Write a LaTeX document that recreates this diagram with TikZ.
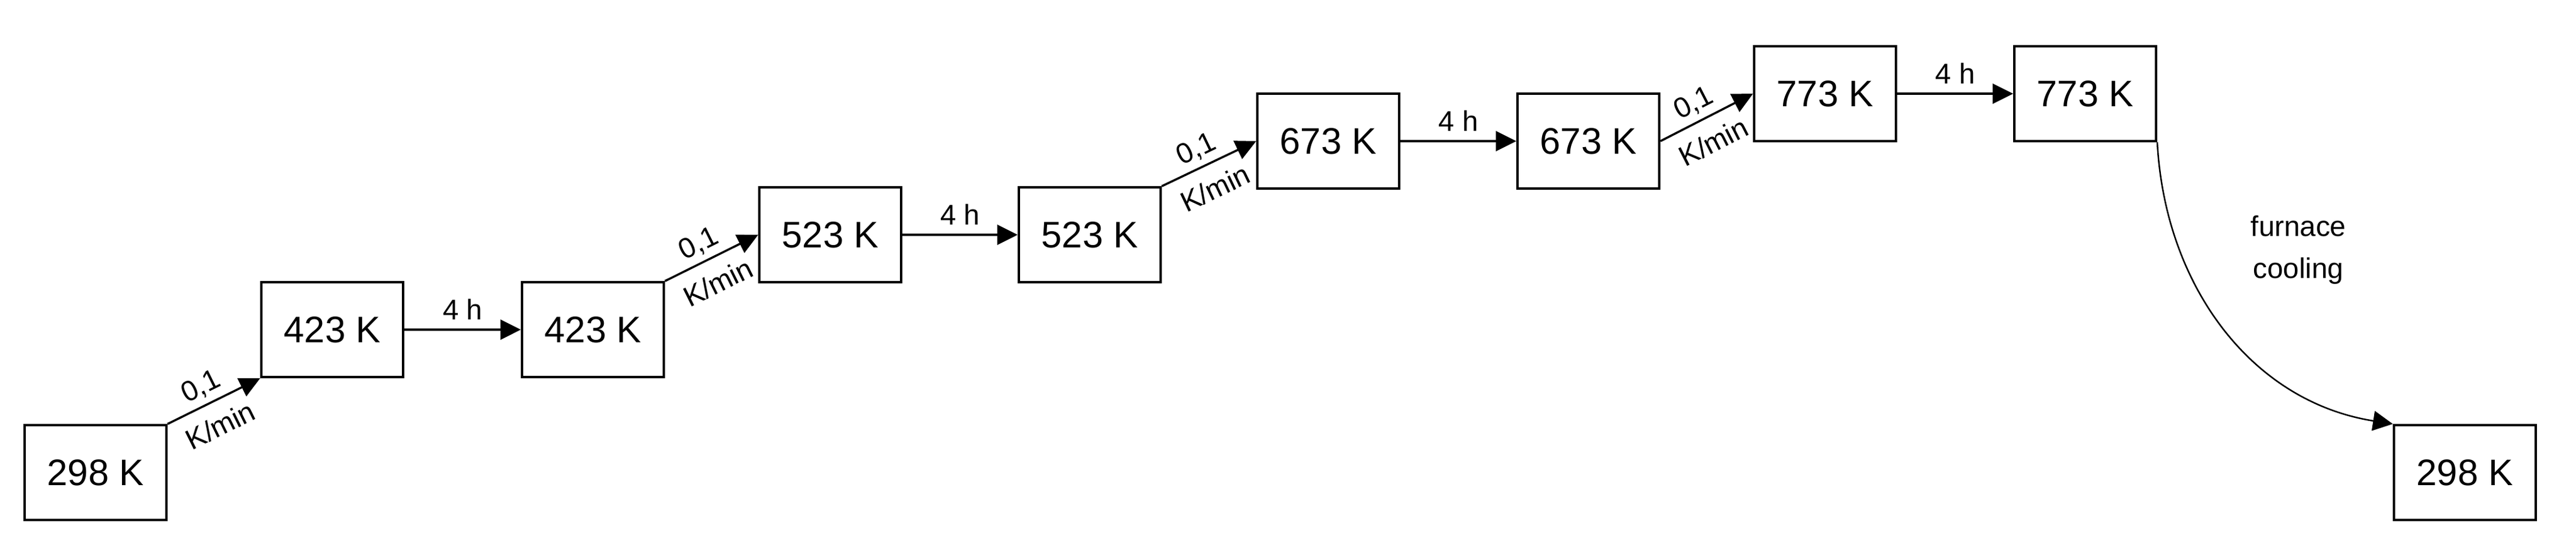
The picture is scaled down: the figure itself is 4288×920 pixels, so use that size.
\documentclass[tikz,border=0pt]{standalone}
\usepackage{fontspec}
\setmainfont{Liberation Sans}
\usetikzlibrary{arrows.meta}
\begin{document}
\begin{tikzpicture}[x=0.01cm,y=-0.01cm,
  tbox/.style={draw, line width=0.38mm, minimum width=2.36cm, minimum height=1.58cm, inner sep=0pt, font=\fontsize{17.5}{21}\selectfont},
  conn/.style={line width=0.35mm, -{Triangle[length=3.4mm,width=3.3mm]}},
  curveconn/.style={line width=0.25mm, -{Triangle[length=3.3mm,width=3.3mm]}},
  lbl/.style={font=\fontsize{13.5}{20}\selectfont},
  uplbl/.style={lbl, sloped, above, inner sep=0.9mm, pos=0.45},
  dnlbl/.style={lbl, sloped, below, inner sep=2.2mm, pos=0.45},
  hlbl/.style={lbl, above, inner sep=1.5mm}]
\useasboundingbox (0,0) rectangle (4288,920);
\node[tbox] (b1) at (159,787) {298 K};
\node[tbox] (b2) at (553,549) {423 K};
\node[tbox] (b3) at (987,549) {423 K};
\node[tbox] (b4) at (1382,391) {523 K};
\node[tbox] (b5) at (1814,391) {523 K};
\node[tbox] (b6) at (2211,235) {673 K};
\node[tbox] (b7) at (2644,235) {673 K};
\node[tbox] (b8) at (3038,156) {773 K};
\node[tbox] (b9) at (3471,156) {773 K};
\node[tbox] (b10) at (4103,787) {298 K};
\draw[conn] (b1.north east) -- node[uplbl]{0,1} node[dnlbl]{K/min} (b2.south west);
\draw[conn] (b2.east) -- node[hlbl]{4 h} (b3.west);
\draw[conn] (b3.north east) -- node[uplbl]{0,1} node[dnlbl]{K/min} (b4.west);
\draw[conn] (b4.east) -- node[hlbl]{4 h} (b5.west);
\draw[conn] (b5.north east) -- node[uplbl]{0,1} node[dnlbl]{K/min} (b6.west);
\draw[conn] (b6.east) -- node[hlbl]{4 h} (b7.west);
\draw[conn] (b7.east) -- node[uplbl]{0,1} node[dnlbl]{K/min} (b8.west);
\draw[conn] (b8.east) -- node[hlbl]{4 h} (b9.west);
\draw[curveconn] (b9.south east) to[out=-87,in=171] (b10.north west);
\node[lbl, align=center] (fc) at (3826,416) {furnace\\cooling};
\end{tikzpicture}
\end{document}
